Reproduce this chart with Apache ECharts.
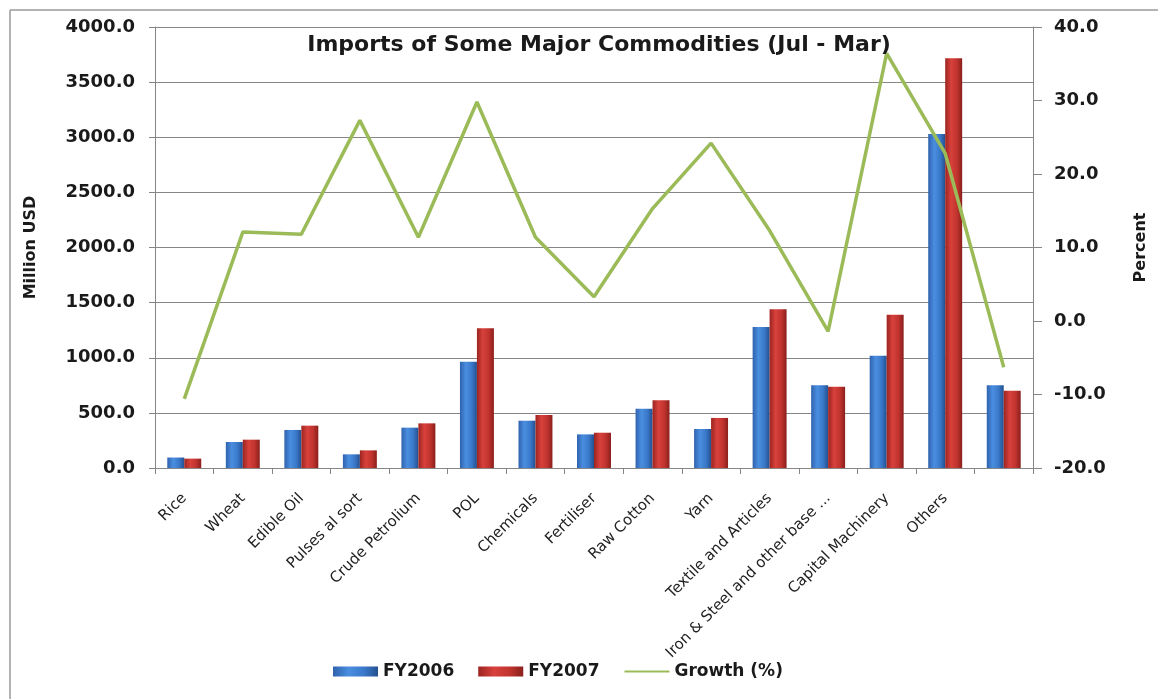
<!DOCTYPE html>
<html>
<head>
<meta charset="utf-8">
<script src="https://cdn.jsdelivr.net/npm/echarts@6/dist/echarts.min.js"></script>
<style>
html,body{margin:0;padding:0;background:#fff;}
#chart{width:1159px;height:699px;}
</style>
</head>
<body>
<div id="chart"></div>
<script>
var categories = ["Rice","Wheat","Edible Oil","Pulses al sort","Crude Petrolium","POL","Chemicals","Fertiliser","Raw Cotton","Yarn","Textile and Articles","Iron & Steel and other base ...","Capital Machinery","Others",""];
var fy2006 = [95, 236, 345, 124, 366, 964, 429, 305, 538, 354, 1279, 750, 1019, 3029, 750];
var fy2007 = [85, 257, 384, 160, 405, 1267, 481, 320, 614, 454, 1439, 738, 1391, 3716, 701];
var growth = [-10.6, 12.1, 11.8, 27.3, 11.4, 29.8, 11.4, 3.3, 15.3, 24.2, 12.3, -1.4, 36.4, 22.8, -6.3];
var leftTicks = {min: 0, max: 4000, interval: 500};
var rightTicks = {min: -20, max: 40, interval: 10};

var FONT = "DejaVu Sans";
var chart = echarts.init(document.getElementById('chart'), null, {renderer: 'canvas'});

var blueGrad = new echarts.graphic.LinearGradient(0, 0, 1, 0, [
  {offset: 0, color: '#2f62ad'},
  {offset: 0.35, color: '#4a8ee0'},
  {offset: 0.7, color: '#3a78c9'},
  {offset: 1, color: '#24508f'}
]);
var redGrad = new echarts.graphic.LinearGradient(0, 0, 1, 0, [
  {offset: 0, color: '#9c2420'},
  {offset: 0.35, color: '#d8413c'},
  {offset: 0.7, color: '#c0332e'},
  {offset: 1, color: '#8a1f1c'}
]);

chart.setOption({
  animation: false,
  backgroundColor: '#fff',
  title: {
    text: 'Imports of Some Major Commodities (Jul - Mar)',
    left: 594, top: 29, textAlign: 'center',
    textStyle: {fontFamily: FONT, fontSize: 22, fontWeight: 'bold', color: '#1a1a1a'}
  },
  graphic: [
    {type: 'line', shape: {x1: 10, y1: 10, x2: 1158, y2: 10}, style: {stroke: '#9a9a9a', lineWidth: 1.5}},
    {type: 'line', shape: {x1: 10, y1: 10, x2: 10, y2: 699}, style: {stroke: '#9a9a9a', lineWidth: 1.5}}
  ],
  legend: {
    left: 328, top: 658,
    itemWidth: 45, itemHeight: 10, itemGap: 24,
    textStyle: {fontFamily: FONT, fontSize: 17, fontWeight: 'bold', color: '#1a1a1a'},
    data: [
      {name: 'FY2006', icon: 'rect'},
      {name: 'FY2007', icon: 'rect'},
      {name: 'Growth (%)', itemStyle: {opacity: 0}}
    ]
  },
  grid: {left: 155, right: 126, top: 27, bottom: 231},
  xAxis: {
    type: 'category',
    data: categories,
    axisLine: {lineStyle: {color: '#868686'}},
    axisTick: {show: true, length: 6, lineStyle: {color: '#868686'}, alignWithLabel: false},
    axisLabel: {
      rotate: 45, interval: 0, margin: 28,
      fontFamily: FONT, fontSize: 15, color: '#222'
    }
  },
  yAxis: [
    {
      type: 'value',
      min: leftTicks.min, max: leftTicks.max, interval: leftTicks.interval,
      name: 'Million USD', nameLocation: 'middle', nameGap: 116, nameRotate: 90,
      nameTextStyle: {fontFamily: FONT, fontSize: 16, fontWeight: 'bold', color: '#1a1a1a'},
      axisLine: {show: true, lineStyle: {color: '#868686'}},
      axisTick: {show: true, length: 6, lineStyle: {color: '#868686'}},
      splitLine: {show: true, lineStyle: {color: '#868686', width: 1}},
      axisLabel: {
        margin: 20, fontFamily: FONT, fontSize: 18, fontWeight: 'bold', color: '#1a1a1a',
        formatter: function (v) { return v.toFixed(1); }
      }
    },
    {
      type: 'value',
      min: rightTicks.min, max: rightTicks.max, interval: rightTicks.interval,
      name: 'Percent', nameLocation: 'middle', nameGap: 100, nameRotate: 90,
      nameTextStyle: {fontFamily: FONT, fontSize: 16, fontWeight: 'bold', color: '#1a1a1a'},
      axisLine: {show: true, lineStyle: {color: '#868686'}},
      axisTick: {show: true, length: 9, lineStyle: {color: '#868686'}},
      splitLine: {show: false},
      axisLabel: {
        margin: 21, fontFamily: FONT, fontSize: 18, fontWeight: 'bold', color: '#1a1a1a',
        formatter: function (v) { return v.toFixed(1); }
      }
    }
  ],
  series: [
    {
      name: 'FY2006', type: 'bar', yAxisIndex: 0,
      data: fy2006, barGap: '0%', barCategoryGap: '42%',
      itemStyle: {color: blueGrad}
    },
    {
      name: 'FY2007', type: 'bar', yAxisIndex: 0,
      data: fy2007, barGap: '0%', barCategoryGap: '42%',
      itemStyle: {color: redGrad}
    },
    {
      name: 'Growth (%)', type: 'line', yAxisIndex: 1,
      data: growth, symbol: 'none', z: 5,
      lineStyle: {color: '#9bbb59', width: 3.5},
      itemStyle: {color: '#9bbb59'}
    }
  ]
});
</script>
</body>
</html>
